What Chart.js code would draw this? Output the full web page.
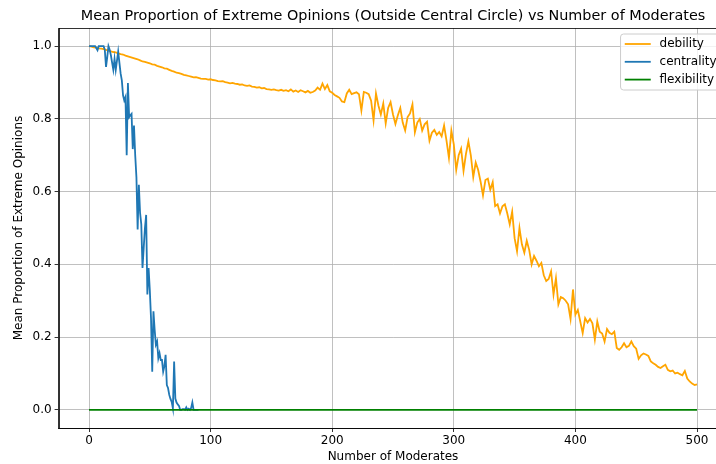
<!DOCTYPE html>
<html>
<head>
<meta charset="utf-8">
<title>Mean Proportion of Extreme Opinions vs Number of Moderates</title>
<script src="https://cdn.jsdelivr.net/npm/chart.js@4.4.1/dist/chart.umd.min.js"></script>
<style>
  html, body { margin: 0; padding: 0; background: #fff; overflow: hidden; }
  #wrap { width: 760px; height: 464px; }
  canvas { display: block; }
</style>
</head>
<body>
<div id="wrap"><canvas id="opinionChart" width="760" height="464"></canvas></div>
<script>
// debility is sampled every 2 moderates, centrality every 1 (it is 0 past 90)
const DEBILITY_STEP = 2;
const debility = [
  1.000, 0.999, 0.997, 0.996, 0.994, 0.993, 0.992, 0.990, 0.988, 0.986,
  0.984, 0.983, 0.980, 0.978, 0.977, 0.974, 0.972, 0.970, 0.968, 0.966,
  0.964, 0.961, 0.958, 0.957, 0.955, 0.953, 0.950, 0.949, 0.946, 0.944,
  0.942, 0.939, 0.938, 0.935, 0.932, 0.930, 0.927, 0.926, 0.924, 0.921,
  0.920, 0.918, 0.916, 0.914, 0.915, 0.913, 0.911, 0.910, 0.910, 0.908,
  0.909, 0.907, 0.906, 0.904, 0.903, 0.904, 0.901, 0.900, 0.898, 0.899,
  0.897, 0.896, 0.894, 0.895, 0.892, 0.891, 0.892, 0.889, 0.888, 0.886,
  0.887, 0.884, 0.885, 0.882, 0.881, 0.880, 0.881, 0.879, 0.878, 0.880,
  0.877, 0.879, 0.876, 0.881, 0.875, 0.878, 0.874, 0.879, 0.876, 0.873,
  0.877, 0.872, 0.874, 0.878, 0.886, 0.880, 0.897, 0.882, 0.893, 0.876,
  0.872, 0.866, 0.862, 0.858, 0.848, 0.846, 0.870, 0.880, 0.868, 0.871,
  0.873, 0.868, 0.823, 0.874, 0.872, 0.868, 0.850, 0.796, 0.870, 0.837,
  0.812, 0.842, 0.788, 0.830, 0.846, 0.812, 0.786, 0.810, 0.830, 0.790,
  0.768, 0.805, 0.815, 0.840, 0.763, 0.790, 0.800, 0.768, 0.785, 0.792,
  0.740, 0.762, 0.770, 0.756, 0.764, 0.752, 0.782, 0.740, 0.693, 0.768,
  0.730, 0.660, 0.700, 0.718, 0.657, 0.704, 0.738, 0.700, 0.640, 0.680,
  0.660, 0.628, 0.590, 0.632, 0.636, 0.605, 0.626, 0.560, 0.565, 0.540,
  0.560, 0.565, 0.540, 0.510, 0.545, 0.472, 0.436, 0.500, 0.455, 0.432,
  0.465, 0.440, 0.400, 0.423, 0.410, 0.395, 0.404, 0.370, 0.354, 0.360,
  0.381, 0.317, 0.362, 0.290, 0.310, 0.307, 0.300, 0.290, 0.250, 0.331,
  0.262, 0.275, 0.243, 0.211, 0.252, 0.240, 0.250, 0.238, 0.193, 0.243,
  0.215, 0.210, 0.188, 0.222, 0.212, 0.208, 0.215, 0.170, 0.165, 0.172,
  0.183, 0.172, 0.176, 0.188, 0.175, 0.168, 0.140, 0.150, 0.155, 0.152,
  0.148, 0.133, 0.128, 0.124, 0.118, 0.115, 0.120, 0.124, 0.110, 0.106,
  0.108, 0.100, 0.102, 0.098, 0.095, 0.107, 0.086, 0.078, 0.072, 0.068,
  0.070
];
const centrality = [
  1.0, 1.0, 1.0, 1.0, 1.0, 1.0, 0.995, 0.989, 1.0, 1.0,
  1.0, 1.0, 1.0, 0.99, 0.943, 0.97, 1.0, 0.99, 0.975, 0.955,
  0.935, 0.965, 0.935, 0.96, 0.985, 0.955, 0.925, 0.906, 0.865, 0.851,
  0.86, 0.70, 0.899, 0.805, 0.81, 0.814, 0.717, 0.782, 0.70, 0.64,
  0.496, 0.619, 0.542, 0.51, 0.39, 0.446, 0.50, 0.536, 0.317, 0.39,
  0.33, 0.252, 0.105, 0.271, 0.22, 0.179, 0.188, 0.142, 0.156, 0.137,
  0.137, 0.105, 0.12, 0.151, 0.068, 0.06, 0.041, 0.03, 0.022, 0.004,
  0.133, 0.031, 0.02, 0.015, 0.011, 0.0, 0.0, 0.002, 0.002, 0.0,
  0.007, 0.0, 0.003, 0.0, 0.005, 0.02, 0.0, 0.0, 0.0, 0.0,
  0.0
];
const flexibilityX = [0, 500];
const flexibility = [0, 0];

const xTicks = [0, 100, 200, 300, 400, 500];
const yTicks = [0.0, 0.2, 0.4, 0.6, 0.8, 1.0];

const FONT = "'DejaVu Sans', 'Liberation Sans', sans-serif";

const debilityPts = debility.map((y, i) => ({ x: i * DEBILITY_STEP, y }));
const centralityPts = centrality.map((y, i) => ({ x: i, y }));
const flexibilityPts = flexibility.map((y, i) => ({ x: flexibilityX[i], y }));

// top/right spines (chart.js only draws the axis-side border)
const framePlugin = {
  id: "frame",
  afterDatasetsDraw(chart) {
    const { ctx, chartArea: a } = chart;
    ctx.save();
    ctx.strokeStyle = "#000";
    ctx.lineWidth = 0.8;
    ctx.strokeRect(Math.round(a.left) + 0.5, Math.round(a.top) + 0.5,
      Math.round(a.right - a.left), Math.round(a.bottom - a.top));
    ctx.restore();
  }
};

const titlePlugin = {
  id: "plotTitle",
  afterDraw(chart) {
    const { ctx, chartArea: a } = chart;
    ctx.save();
    ctx.font = "14.4px " + FONT;
    ctx.fillStyle = "#000";
    ctx.textAlign = "center";
    ctx.textBaseline = "middle";
    ctx.fillText("Mean Proportion of Extreme Opinions (Outside Central Circle) vs Number of Moderates",
      (a.left + a.right) / 2, 16);
    ctx.restore();
  }
};

// upper-right boxed legend with line samples
const boxLegendPlugin = {
  id: "boxLegend",
  afterDraw(chart) {
    const { ctx, chartArea: a } = chart;
    const sets = chart.data.datasets;
    const fs = 12;
    ctx.save();
    ctx.font = fs + "px " + FONT;
    const textW = Math.max(...sets.map(d => ctx.measureText(d.label).width));
    const right = a.right - 6;
    const width = 4.2 + 26 + 8.8 + textW + 4.8;
    const left = right - width;
    const top = a.top + 6;
    const rowH = 17.8;
    const height = 56;
    ctx.beginPath();
    ctx.roundRect(left, top, width, height, 3);
    ctx.fillStyle = "rgba(255,255,255,0.8)";
    ctx.fill();
    ctx.strokeStyle = "#cccccc";
    ctx.lineWidth = 1;
    ctx.stroke();
    sets.forEach((d, i) => {
      const cy = top + 10 + i * rowH;
      ctx.beginPath();
      ctx.moveTo(left + 4.2, cy);
      ctx.lineTo(left + 30.2, cy);
      ctx.strokeStyle = d.borderColor;
      ctx.lineWidth = 1.8;
      ctx.stroke();
      ctx.fillStyle = "#000";
      ctx.textBaseline = "middle";
      ctx.fillText(d.label, left + 39, cy);
    });
    ctx.restore();
  }
};

const axisFont = { family: FONT, size: 12 };

new Chart(document.getElementById("opinionChart"), {
  type: "line",
  data: {
    datasets: [
      { label: "debility", data: debilityPts, borderColor: "#ffa500", order: 3 },
      { label: "centrality", data: centralityPts, borderColor: "#1f77b4", order: 2 },
      { label: "flexibility", data: flexibilityPts, borderColor: "#008000", order: 1 }
    ]
  },
  options: {
    responsive: false,
    animation: false,
    events: [],
    layout: { padding: { top: 28, right: 32.6, bottom: 0, left: 0 } },
    elements: {
      line: { borderWidth: 1.8, tension: 0, fill: false },
      point: { radius: 0 }
    },
    plugins: {
      legend: { display: false },
      tooltip: { enabled: false },
      title: { display: false }
    },
    scales: {
      x: {
        type: "linear",
        min: -25,
        max: 525,
        afterBuildTicks: s => { s.ticks = xTicks.map(v => ({ value: v })); },
        afterFit: s => { s.height = 36; },
        grid: { color: "#b0b0b0", lineWidth: 0.8, tickLength: 4, tickColor: "#000", tickWidth: 0.8 },
        border: { color: "#000", width: 0.8 },
        ticks: { color: "#000", font: axisFont, padding: 2, maxRotation: 0, callback: v => String(v) },
        title: { display: true, text: "Number of Moderates", color: "#000", font: axisFont, padding: { top: 0, bottom: 0 } }
      },
      y: {
        type: "linear",
        min: -0.05,
        max: 1.05,
        afterBuildTicks: s => { s.ticks = yTicks.map(v => ({ value: v })); },
        afterFit: s => { s.width = 58.6; },
        grid: { color: "#b0b0b0", lineWidth: 0.8, tickLength: 4, tickColor: "#000", tickWidth: 0.8 },
        border: { color: "#000", width: 0.8 },
        ticks: { color: "#000", font: axisFont, padding: 3, callback: v => v.toFixed(1) },
        title: { display: true, text: "Mean Proportion of Extreme Opinions", color: "#000", font: axisFont, padding: { top: 12, bottom: 0 } }
      }
    }
  },
  plugins: [framePlugin, titlePlugin, boxLegendPlugin]
});
</script>
</body>
</html>
